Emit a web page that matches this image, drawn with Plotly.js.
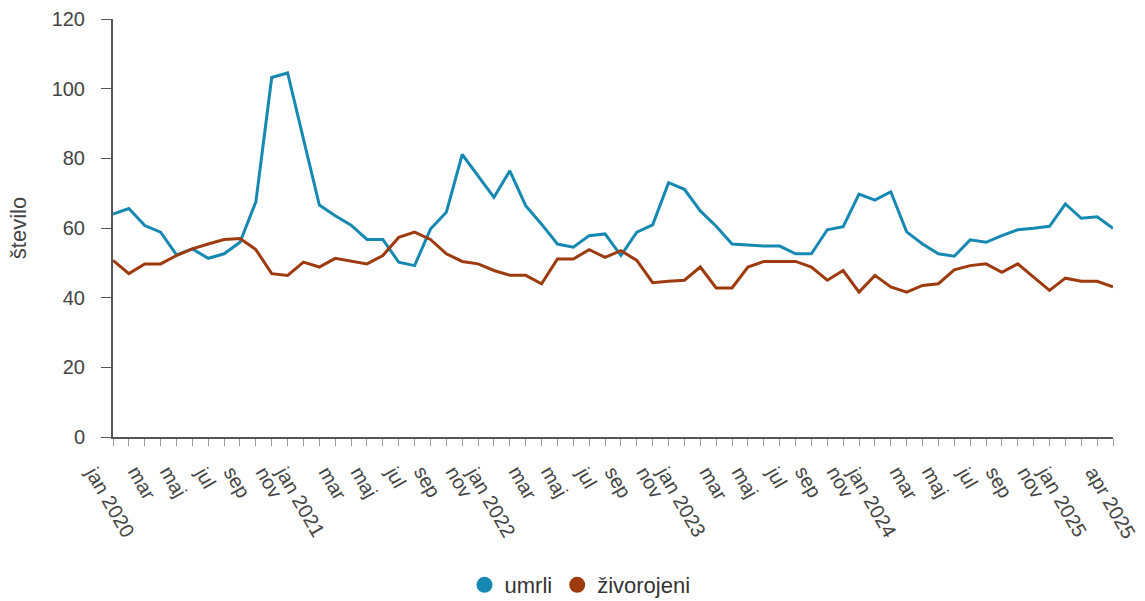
<!DOCTYPE html>
<html>
<head>
<meta charset="utf-8">
<script src="https://cdn.plot.ly/plotly-3.0.1.min.js"></script>
<style>html,body{margin:0;padding:0;background:#fff;}#chart{width:1145px;height:601px;}</style>
</head>
<body>
<div id="chart"></div>
<script>
var monthNames = ['jan','feb','mar','apr','maj','jun','jul','avg','sep','okt','nov','dec'];
var years = [2020, 2021, 2022, 2023, 2024, 2025];
var months = [];
years.forEach(function(y){ monthNames.forEach(function(m){ months.push(m + ' ' + y); }); });
months = months.slice(0, 64); // jan 2020 .. apr 2025

var umrli = [64.0,65.6,60.7,58.8,52.3,54.0,51.3,52.6,55.9,67.5,103.2,104.5,
  85.5,66.6,63.5,60.8,56.7,56.7,50.2,49.2,59.7,64.5,81.1,74.9,
  68.8,76.4,66.4,61.1,55.4,54.5,57.8,58.3,52.1,58.8,60.9,73.0,
  71.1,64.9,60.5,55.4,55.1,54.8,54.8,52.6,52.6,59.5,60.4,69.7,
  68.0,70.4,58.9,55.4,52.6,51.9,56.6,55.9,57.8,59.5,59.9,60.5,
  66.9,62.8,63.2,59.9];
var zivorojeni = [50.7,46.9,49.7,49.7,52.1,54.0,55.4,56.7,57.0,53.8,46.9,46.4,
  50.2,48.8,51.3,50.4,49.7,52.1,57.3,58.8,56.7,52.6,50.4,49.7,
  47.8,46.4,46.4,44.0,51.1,51.1,53.8,51.6,53.5,50.7,44.3,44.7,
  45.0,48.8,42.8,42.8,48.8,50.4,50.4,50.4,48.8,45.0,47.8,41.6,
  46.4,43.1,41.6,43.5,44.0,48.0,49.2,49.7,47.3,49.7,45.9,42.1,
  45.6,44.7,44.7,43.1];

// x-axis tick labels (every second month, plus the last month)
var tickIdx = [0,2,4,6,8,10,12,14,16,18,20,22,24,26,28,30,32,34,36,38,40,42,44,46,48,50,52,54,56,58,60,63];
var tickText = ['jan 2020','mar','maj','jul','sep','nov','jan 2021','mar','maj','jul','sep','nov',
  'jan 2022','mar','maj','jul','sep','nov','jan 2023','mar','maj','jul','sep','nov',
  'jan 2024','mar','maj','jul','sep','nov','jan 2025','apr 2025'];

var blue = '#1689b3', brown = '#9e3b0e';
var txt = '#444';
var font = 'Liberation Sans, Arial, sans-serif';

var traces = [
  {x: months, y: umrli, type: 'scatter', mode: 'lines', line: {color: blue, width: 3}, showlegend: false, hoverinfo: 'x+y', name: 'umrli'},
  {x: months, y: zivorojeni, type: 'scatter', mode: 'lines', line: {color: brown, width: 3}, showlegend: false, hoverinfo: 'x+y', name: 'živorojeni'},
  {x: [null], y: [null], type: 'scatter', mode: 'markers', marker: {color: blue, size: 20}, name: 'umrli'},
  {x: [null], y: [null], type: 'scatter', mode: 'markers', marker: {color: brown, size: 20}, name: 'živorojeni'}
];

var plotH = 601 - 19 - 164;
var annotations = tickIdx.map(function(i, k){
  return {
    x: months[i], xref: 'x', y: -23 / plotH, yref: 'paper',
    text: tickText[k], showarrow: false, textangle: 60,
    xanchor: 'center', yanchor: 'top', xshift: -3,
    font: {family: font, size: 20, color: txt}
  };
});

var layout = {
  width: 1145, height: 601,
  margin: {l: 113, r: 32, t: 19, b: 164, autoexpand: false},
  paper_bgcolor: '#fff', plot_bgcolor: '#fff',
  font: {family: font, size: 20, color: txt},
  xaxis: {
    type: 'category', range: [0, 63], showgrid: false, zeroline: false,
    showline: true, linecolor: '#555', linewidth: 2,
    ticks: 'outside', ticklen: 7, tickwidth: 1, tickcolor: '#999', dtick: 1,
    showticklabels: false
  },
  yaxis: {
    range: [0, 120], dtick: 20, showgrid: false, zeroline: false,
    showline: true, linecolor: '#555', linewidth: 2,
    ticks: 'outside', ticklen: 10, tickwidth: 1, tickcolor: '#555',
    ticklabelstandoff: 12,
    tickfont: {family: font, size: 20, color: txt},
    title: {text: 'število', font: {family: font, size: 22, color: txt}, standoff: 19},
    automargin: false
  },
  legend: {
    orientation: 'h', x: 0.467, xanchor: 'center', y: -148 / plotH, yanchor: 'middle',
    font: {family: font, size: 22, color: '#333'}, itemsizing: 'trace', itemwidth: 30
  },
  annotations: annotations,
  showlegend: true
};

Plotly.newPlot('chart', traces, layout, {displayModeBar: false, staticPlot: true});
</script>
</body>
</html>
